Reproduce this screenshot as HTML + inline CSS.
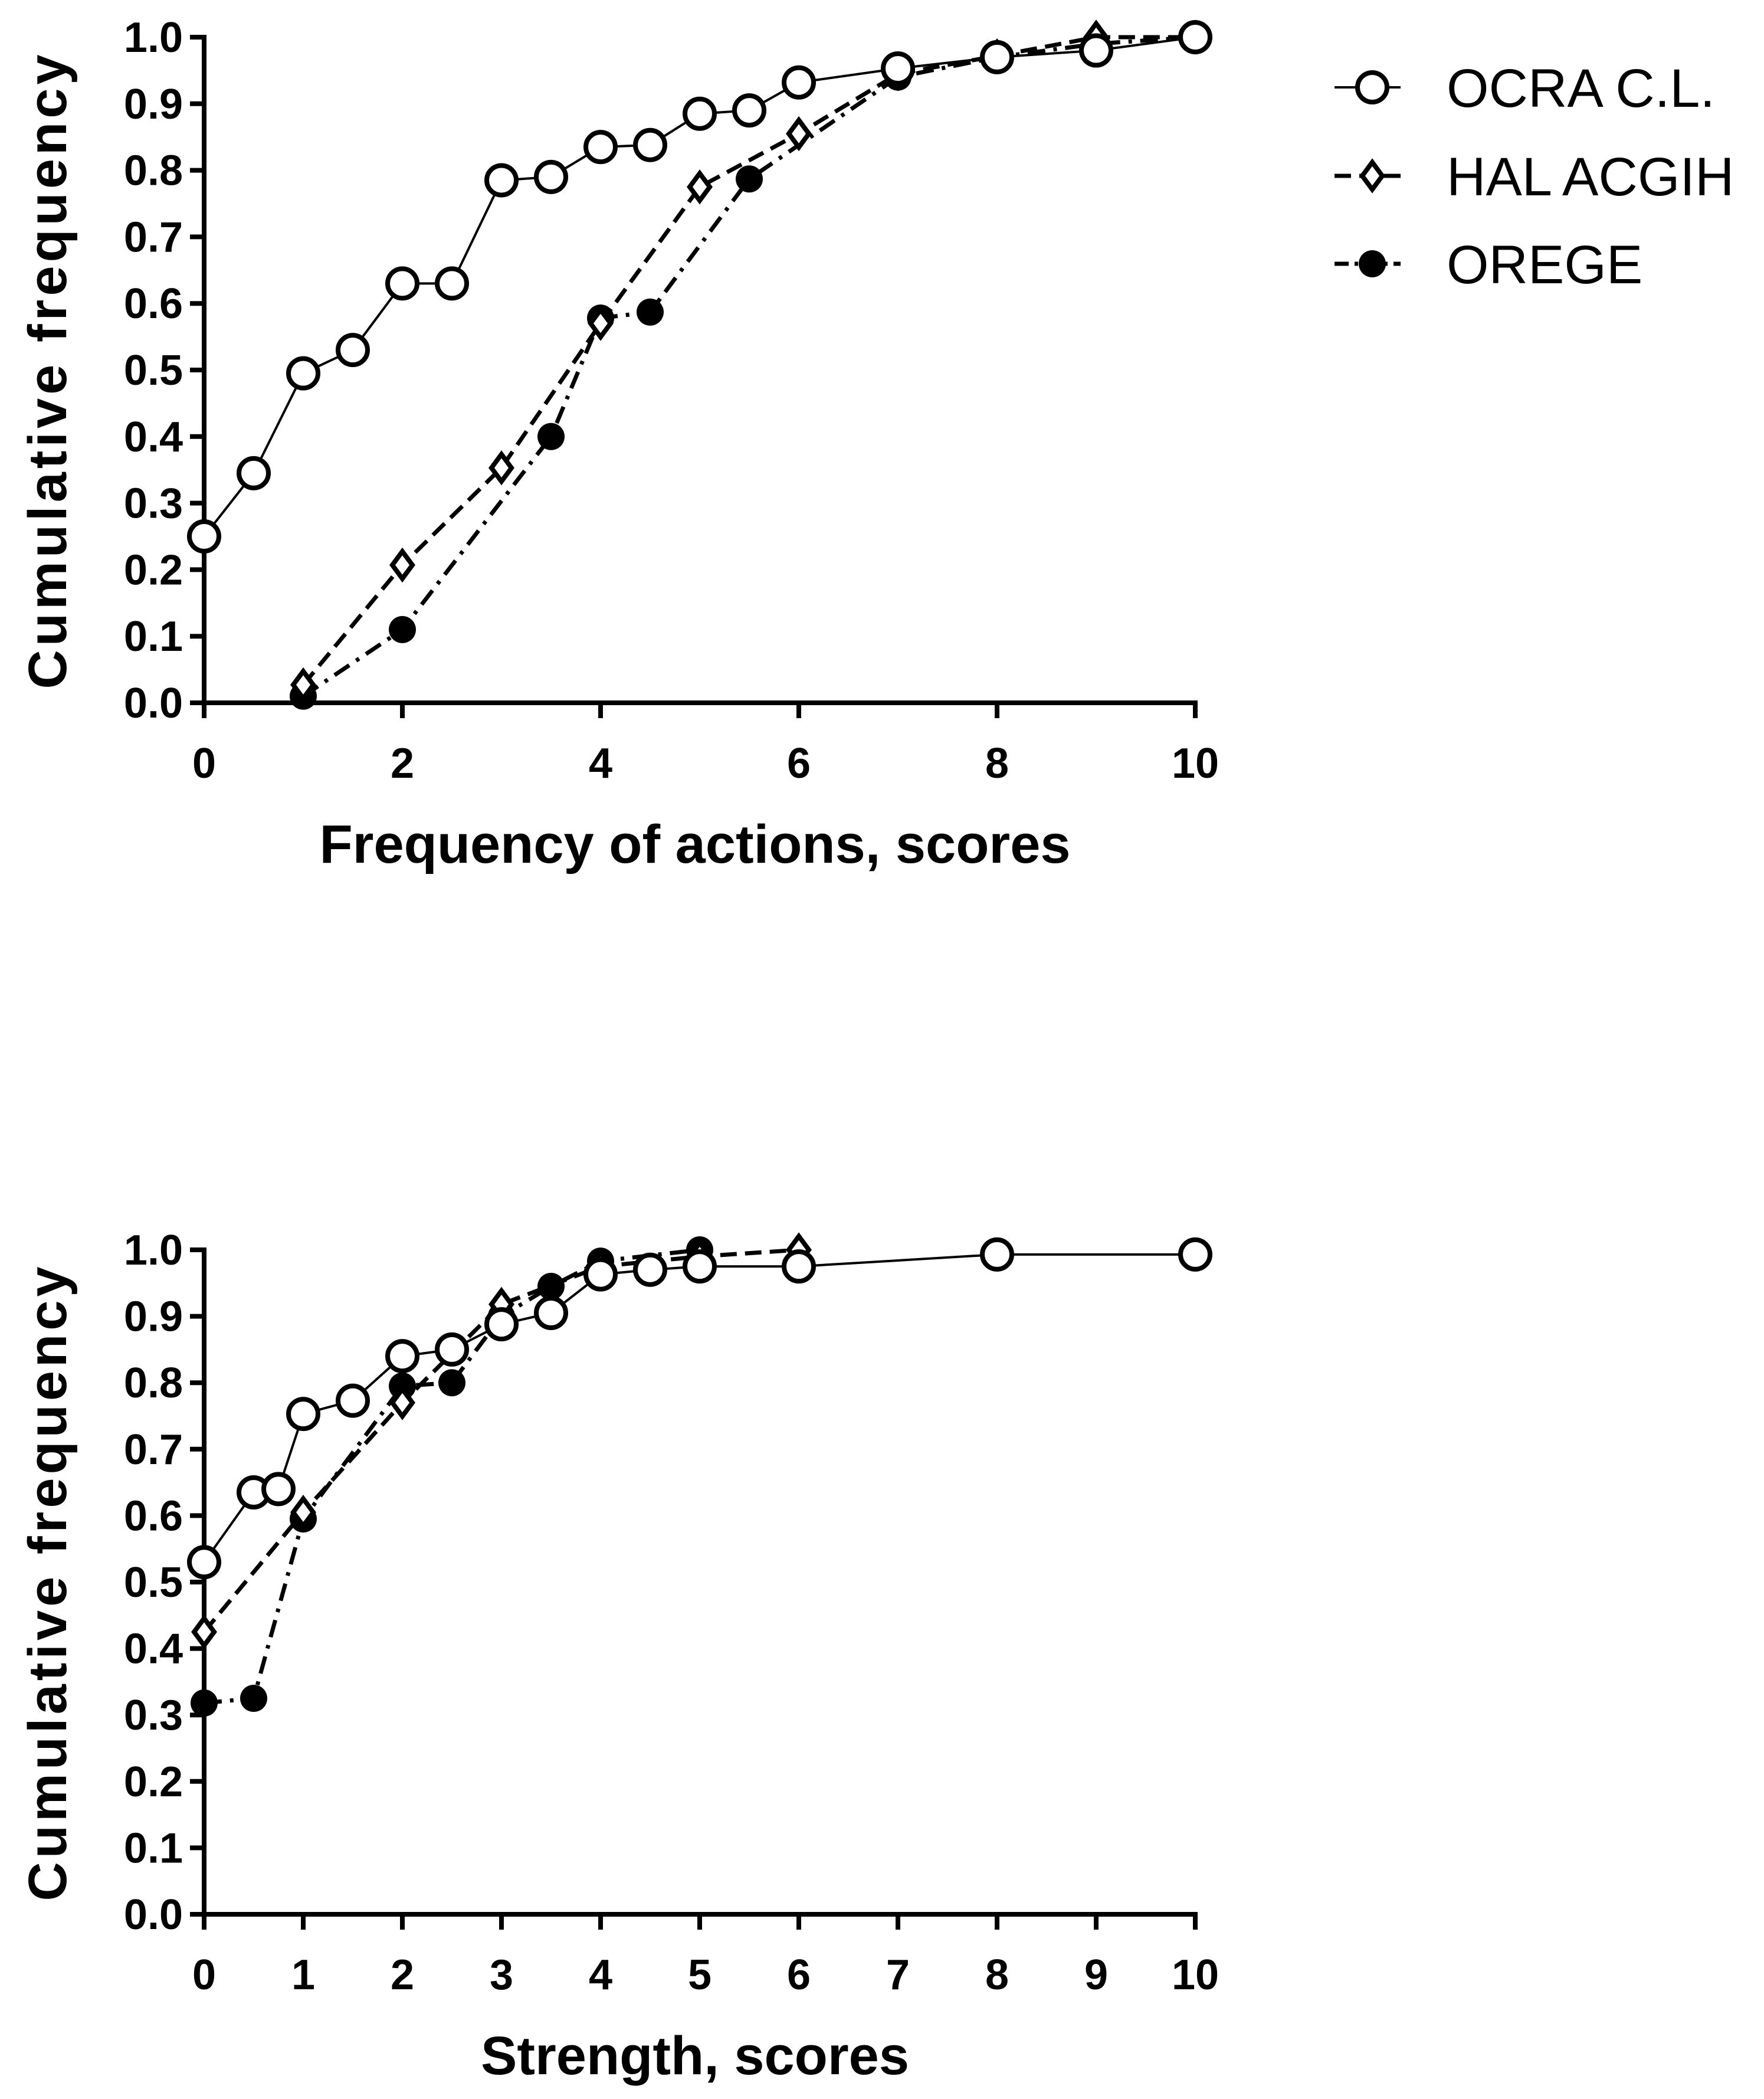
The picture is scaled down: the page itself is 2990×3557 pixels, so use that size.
<!DOCTYPE html>
<html><head><meta charset="utf-8"><style>
html,body{margin:0;padding:0;background:#fff}
svg{display:block}
text{font-family:"Liberation Sans",sans-serif;fill:#000}
</style></head><body>
<svg id="s" width="2990" height="3557" viewBox="0 0 2990 3557"></svg>
<script>
const ocra1X=[0,0.5,1,1.5,2,2.5,3,3.5,4,4.5,5,5.5,6,7,8,9,10];
const ocra1Y=[0.25,0.345,0.495,0.53,0.63,0.63,0.785,0.79,0.835,0.838,0.885,0.89,0.932,0.953,0.97,0.98,1.0];
const hal1X=[1,2,3,4,5,6,7,8,9,10];
const hal1Y=[0.027,0.207,0.353,0.57,0.775,0.855,0.945,0.972,1.0,1.0];
const orege1X=[1,2,3.5,4,4.5,5.5,7,8,9,10];
const orege1Y=[0.01,0.11,0.40,0.578,0.587,0.787,0.94,0.97,0.99,1.0];
const ocra2X=[0,0.5,0.75,1,1.5,2,2.5,3,3.5,4,4.5,5,6,8,10];
const ocra2Y=[0.53,0.635,0.64,0.753,0.773,0.84,0.85,0.888,0.905,0.963,0.97,0.975,0.975,0.993,0.993];
const hal2X=[0,1,2,3,4,5,6];
const hal2Y=[0.425,0.605,0.77,0.918,0.975,0.99,1.0];
const orege2X=[0,0.5,1,2,2.5,3,3.5,4,5];
const orege2Y=[0.318,0.325,0.595,0.795,0.8,0.9,0.945,0.983,1.0];
const yTicks=[0,0.1,0.2,0.3,0.4,0.5,0.6,0.7,0.8,0.9,1.0];
const xTicks1=[0,2,4,6,8,10];
const xTicks2=[0,1,2,3,4,5,6,7,8,9,10];

const NS="http://www.w3.org/2000/svg";
const svg=document.getElementById('s');
function mk(tag,attrs,parent){const e=document.createElementNS(NS,tag);for(const k in attrs)e.setAttribute(k,attrs[k]);(parent||svg).appendChild(e);return e;}
function marker(g,type,x,y){
  let m;
  if(type==='circle'){m=mk('circle',{cx:x,cy:y,r:25,fill:'#fff',stroke:'#000','stroke-width':8},g);}
  else if(type==='diamond'){m=mk('polygon',{points:`${x},${y-23} ${x+17},${y} ${x},${y+23} ${x-17},${y}`,fill:'#fff',stroke:'#000','stroke-width':8},g);}
  else {m=mk('circle',{cx:x,cy:y,r:23,fill:'#000'},g);}
  return m;
}
function chart(name,top,bottom,xTicks,xTitle,series){
  const L=346,R=2026;
  const xs=v=>L+(R-L)*v/10, ys=v=>bottom-(bottom-top)*v;
  const g=mk('g',{});
  
  
  const ax=mk('g',{},g);
  
  
  mk('line',{x1:L,y1:top-4,x2:L,y2:bottom+3,stroke:'#000','stroke-width':8},ax);
  yTicks.forEach(t=>{
    mk('line',{x1:L-24,y1:ys(t),x2:L,y2:ys(t),stroke:'#000','stroke-width':8},ax);
    const tx=mk('text',{x:L-36,y:ys(t)+25,'text-anchor':'end','font-size':72,'font-weight':'bold'},ax);
    tx.textContent=t.toFixed(1);
  });
  const xa=mk('g',{},g);
  
  
  mk('line',{x1:L-4,y1:bottom,x2:R+4,y2:bottom,stroke:'#000','stroke-width':8},xa);
  xTicks.forEach(t=>{
    mk('line',{x1:xs(t),y1:bottom,x2:xs(t),y2:bottom+26,stroke:'#000','stroke-width':8},xa);
    const tx=mk('text',{x:xs(t),y:bottom+127,'text-anchor':'middle','font-size':72,'font-weight':'bold'},xa);
    tx.textContent=t;
  });
  const xt=mk('text',{x:(L+R)/2-8,y:bottom+271,'text-anchor':'middle','font-size':92,'font-weight':'bold'},g);
  xt.textContent=xTitle;
  
  
  const cy=(top+bottom)/2;
  const yt=mk('text',{x:0,y:0,transform:`translate(112 ${cy}) rotate(-90)`,'text-anchor':'middle','font-size':92,'font-weight':'bold','letter-spacing':6},g);
  yt.textContent='Cumulative frequency';
  
  
  series.forEach(s=>{
    const sg=mk('g',{},g);
    
    
    const pts=s.x.map((v,i)=>xs(v)+','+ys(s.y[i])).join(' ');
    const a={points:pts,fill:'none',stroke:'#000','stroke-width':s.w};
    if(s.dash)a['stroke-dasharray']=s.dash;
    mk('polyline',a,sg);
    s.x.forEach((v,i)=>{const m=marker(sg,s.m,xs(v),ys(s.y[i]));});
  });
}
const S1=[
  {name:'orege-series',x:orege1X,y:orege1Y,m:'dot',w:7,dash:'30 14 6 14'},
  {name:'hal-acgih-series',x:hal1X,y:hal1Y,m:'diamond',w:7,dash:'28 14'},
  {name:'ocra-series',x:ocra1X,y:ocra1Y,m:'circle',w:4}
];
const S2=[
  {name:'orege-series',x:orege2X,y:orege2Y,m:'dot',w:7,dash:'30 14 6 14'},
  {name:'hal-acgih-series',x:hal2X,y:hal2Y,m:'diamond',w:7,dash:'28 14'},
  {name:'ocra-series',x:ocra2X,y:ocra2Y,m:'circle',w:4}
];
chart('chart-frequency-of-actions',63,1191,xTicks1,'Frequency of actions, scores',S1);
chart('chart-strength',2118,3244,xTicks2,'Strength, scores',S2);

const lg=mk('g',{});


const legendItems=[['OCRA C.L.','circle',null,4],['HAL ACGIH','diamond','28 14',7],['OREGE','dot','24 10 6 10',7]];
const legendY=[148,298,447];
legendItems.forEach((it,i)=>{
  const e=mk('g',{},lg);
  
  
  const a={x1:2262,y1:legendY[i],x2:2374,y2:legendY[i],stroke:'#000','stroke-width':it[3]};
  if(it[2])a['stroke-dasharray']=it[2];
  mk('line',a,e);
  marker(e,it[1],2326,legendY[i]);
  const t=mk('text',{x:2452,y:legendY[i]+33,'font-size':92},e);
  t.textContent=it[0];
});
</script>
</body></html>
